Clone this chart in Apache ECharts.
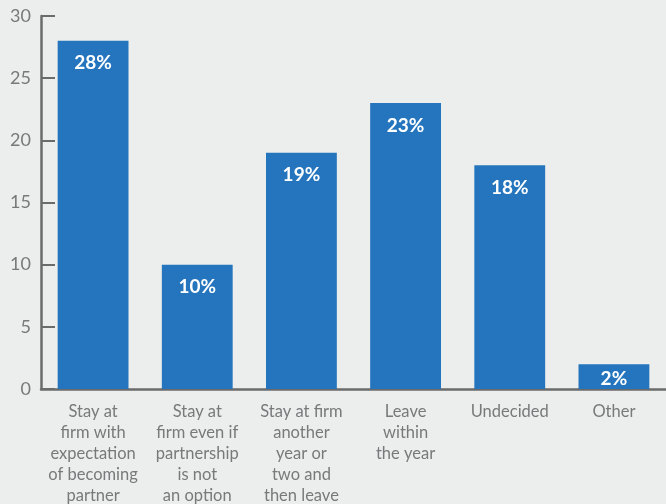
<!DOCTYPE html>
<html>
<head>
<meta charset="utf-8">
<script src="https://cdn.jsdelivr.net/npm/echarts@6/dist/echarts.min.js"></script>
<style>
  html, body { margin: 0; padding: 0; background: #eceeed; }
  #chart { width: 666px; height: 504px; }
</style>
</head>
<body>
<div id="chart"></div>
<script>
// Survey answers: plans regarding staying at the firm
const categories = [
  'Stay at\nfirm with\nexpectation\nof becoming\npartner',
  'Stay at\nfirm even if\npartnership\nis not\nan option',
  'Stay at firm\nanother\nyear or\ntwo and\nthen leave',
  'Leave\nwithin\nthe year',
  'Undecided',
  'Other'
];
const values = [28, 10, 19, 23, 18, 2];
const yTicks = [0, 5, 10, 15, 20, 25, 30];

const axisColor = '#6b6b6b';
const textColor = '#777a7a';
const barColor = '#2475bd';
const font = 'Lato';

const chart = echarts.init(document.getElementById('chart'));
chart.setOption({
  backgroundColor: '#eceeed',
  animation: false,
  grid: { left: 41, right: 0, top: 16, bottom: 115, outerBoundsMode: 'none' },
  xAxis: {
    type: 'category',
    data: categories,
    axisLine: { lineStyle: { color: axisColor, width: 2.5 } },
    axisTick: { inside: true, length: 9, lineStyle: { color: axisColor, width: 2 } },
    axisLabel: {
      color: textColor, fontFamily: font, fontSize: 16.5, lineHeight: 21,
      margin: 12, interval: 0, align: 'center'
    }
  },
  yAxis: {
    type: 'value',
    min: yTicks[0],
    max: yTicks[yTicks.length - 1],
    interval: 5,
    splitLine: { show: false },
    axisLine: { show: true, lineStyle: { color: axisColor, width: 2.5 } },
    axisTick: { show: true, inside: true, length: 14, lineStyle: { color: axisColor, width: 2 } },
    axisLabel: { color: textColor, fontFamily: font, fontSize: 18, margin: 10 }
  },
  series: [{
    type: 'bar',
    data: values.map((v, i) => i === values.length - 1
      ? { value: v, label: { distance: 5 } }
      : v),
    barWidth: '68%',
    itemStyle: { color: barColor },
    label: {
      show: true,
      position: 'insideTop',
      distance: 13,
      formatter: p => p.value + '%',
      color: '#ffffff',
      fontFamily: font,
      fontWeight: 'bold',
      fontSize: 19
    }
  }]
});
</script>
</body>
</html>
